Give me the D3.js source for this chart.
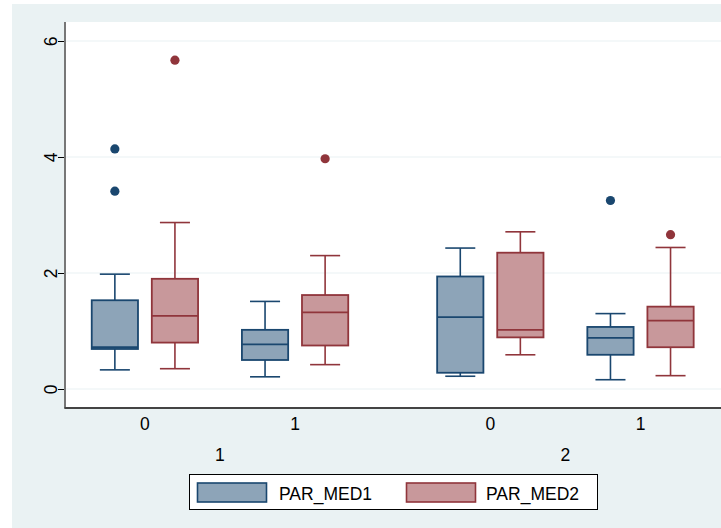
<!DOCTYPE html>
<html>
<head>
<meta charset="utf-8">
<script src="https://cdn.jsdelivr.net/npm/d3@7"></script>
<style>
  html, body { margin: 0; padding: 0; background: #ffffff; }
  svg { display: block; font-family: "Liberation Sans", Arial, Helvetica, sans-serif; }
</style>
</head>
<body>
<svg id="chart" width="721" height="528"></svg>
<script>
// Outer grouping (row of labels under the axis) and inner categories
const groups = ["1", "2"];
const categories = ["0", "1"];
const seriesNames = ["PAR_MED1", "PAR_MED2"];

// Box statistics per group / category / series: [lowWhisker, q1, median, q3, highWhisker]
const par1Stats = [
  [0.33, 0.69, 0.72, 1.53, 1.98],   // group 1, cat 0
  [0.21, 0.50, 0.77, 1.02, 1.51],   // group 1, cat 1
  [0.22, 0.28, 1.24, 1.94, 2.43],   // group 2, cat 0
  [0.16, 0.59, 0.88, 1.07, 1.30]    // group 2, cat 1
];
const par2Stats = [
  [0.35, 0.80, 1.26, 1.90, 2.87],
  [0.42, 0.75, 1.32, 1.62, 2.30],
  [0.59, 0.89, 1.02, 2.35, 2.71],
  [0.23, 0.72, 1.18, 1.42, 2.44]
];
// Outside values
const par1Outliers = [[4.14, 3.41], [], [], [3.25]];
const par2Outliers = [[5.67], [3.97], [], [2.66]];

const yTicks = [0, 2, 4, 6];

const colors = {
  PAR_MED1: { stroke: "#1a476f", fill: "#8da4b8" },
  PAR_MED2: { stroke: "#90353b", fill: "#c8989b" }
};

const svg = d3.select("#chart");
const W = 721, H = 528;

// Graph region background
svg.append("rect").attr("x", 12).attr("y", 4).attr("width", W - 12).attr("height", H - 4)
  .attr("fill", "#eaf2f3");

const plot = { left: 65, top: 22, right: 721, bottom: 408 };
svg.append("rect").attr("x", plot.left).attr("y", plot.top)
  .attr("width", plot.right - plot.left).attr("height", plot.bottom - plot.top)
  .attr("fill", "#ffffff");

// Slot layout: two boxes per category, wider gaps between categories and groups
const boxGap = 1, catGap = 1.5, groupGap = 2.25;
const boxes = [];
let pos = 0;
groups.forEach((g, gi) => {
  categories.forEach((c, ci) => {
    const idx = gi * categories.length + ci;
    boxes.push({ series: "PAR_MED1", pos: pos, stats: par1Stats[idx], out: par1Outliers[idx], cat: c, group: g });
    boxes.push({ series: "PAR_MED2", pos: pos + boxGap, stats: par2Stats[idx], out: par2Outliers[idx], cat: c, group: g });
    pos += boxGap + (ci < categories.length - 1 ? catGap : groupGap);
  });
});

const x = d3.scaleLinear().domain([-0.83, 10.09]).range([plot.left, plot.right]);
const y = d3.scaleLinear().domain([0, 6]).range([389, 41]);
const unit = x(1) - x(0);
const boxW = unit * 0.77;
const capW = unit * 0.5;

// Gridlines
svg.append("g").selectAll("line").data(yTicks).join("line")
  .attr("x1", plot.left).attr("x2", plot.right)
  .attr("y1", d => y(d)).attr("y2", d => y(d))
  .attr("stroke", "#eaf2f3").attr("stroke-width", 1.2);

// Y axis
const yAxis = d3.axisLeft(y).tickValues(yTicks).tickSize(7).tickPadding(4).tickFormat(d3.format("d"));
const yg = svg.append("g").attr("transform", `translate(${plot.left},0)`).call(yAxis);
yg.select(".domain").remove();
yg.selectAll(".tick line").attr("stroke", "#000").attr("stroke-width", 1);
yg.selectAll(".tick text")
  .attr("font-size", 17.5).attr("fill", "#000")
  .attr("text-anchor", "middle")
  .attr("x", null).attr("dy", null)
  .attr("transform", "translate(-14,0) rotate(-90) translate(0,-0.5)")
  .attr("dominant-baseline", "auto")
  .attr("y", 0);
yg.selectAll(".tick text").attr("transform", "translate(-14.5,0) rotate(-90)").attr("dy", "0.35em");

svg.append("line").attr("x1", plot.left).attr("x2", plot.left)
  .attr("y1", plot.top).attr("y2", plot.bottom + 0.5)
  .attr("stroke", "#777777").attr("stroke-width", 2);
svg.append("line").attr("x1", plot.left - 0.5).attr("x2", plot.right)
  .attr("y1", plot.bottom).attr("y2", plot.bottom)
  .attr("stroke", "#444444").attr("stroke-width", 1.8);

// Boxes
const bg = svg.append("g");
boxes.forEach(b => {
  const cx = x(b.pos);
  const col = colors[b.series];
  const [lo, q1, med, q3, hi] = b.stats;
  const g = bg.append("g");
  // whiskers
  g.append("line").attr("x1", cx).attr("x2", cx).attr("y1", y(q3)).attr("y2", y(hi))
    .attr("stroke", col.stroke).attr("stroke-width", 1.6);
  g.append("line").attr("x1", cx).attr("x2", cx).attr("y1", y(q1)).attr("y2", y(lo))
    .attr("stroke", col.stroke).attr("stroke-width", 1.6);
  g.append("line").attr("x1", cx - capW / 2).attr("x2", cx + capW / 2).attr("y1", y(hi)).attr("y2", y(hi))
    .attr("stroke", col.stroke).attr("stroke-width", 1.6);
  g.append("line").attr("x1", cx - capW / 2).attr("x2", cx + capW / 2).attr("y1", y(lo)).attr("y2", y(lo))
    .attr("stroke", col.stroke).attr("stroke-width", 1.6);
  // box
  g.append("rect").attr("x", cx - boxW / 2).attr("y", y(q3))
    .attr("width", boxW).attr("height", y(q1) - y(q3))
    .attr("fill", col.fill).attr("stroke", col.stroke).attr("stroke-width", 1.8);
  // median
  g.append("line").attr("x1", cx - boxW / 2).attr("x2", cx + boxW / 2).attr("y1", y(med)).attr("y2", y(med))
    .attr("stroke", col.stroke).attr("stroke-width", 1.8);
  // outside values
  g.selectAll("circle").data(b.out).join("circle")
    .attr("cx", cx).attr("cy", d => y(d)).attr("r", 4.6)
    .attr("fill", col.stroke);
});

// Category labels and group labels
const catLabels = [];
for (let i = 0; i < boxes.length; i += 2) {
  catLabels.push({ text: boxes[i].cat, pos: (boxes[i].pos + boxes[i + 1].pos) / 2, group: boxes[i].group });
}
svg.append("g").selectAll("text").data(catLabels).join("text")
  .attr("x", d => x(d.pos)).attr("y", 430)
  .attr("text-anchor", "middle").attr("font-size", 17.5).attr("fill", "#000")
  .text(d => d.text);

const groupLabels = groups.map(g => {
  const inG = catLabels.filter(c => c.group === g);
  return { text: g, pos: d3.mean(inG, c => c.pos) };
});
svg.append("g").selectAll("text").data(groupLabels).join("text")
  .attr("x", d => x(d.pos)).attr("y", 461)
  .attr("text-anchor", "middle").attr("font-size", 17.5).attr("fill", "#000")
  .text(d => d.text);

// Legend
const lg = svg.append("g");
lg.append("rect").attr("x", 189.5).attr("y", 474.5).attr("width", 408).attr("height", 35)
  .attr("fill", "#ffffff").attr("stroke", "#000").attr("stroke-width", 1);
const legendItems = [
  { name: seriesNames[0], kx: 197.5, tx: 279 },
  { name: seriesNames[1], kx: 406.5, tx: 486 }
];
legendItems.forEach(it => {
  const col = colors[it.name];
  lg.append("rect").attr("x", it.kx).attr("y", 483).attr("width", 69).attr("height", 19)
    .attr("fill", col.fill).attr("stroke", col.stroke).attr("stroke-width", 1.6);
  lg.append("text").attr("x", it.tx).attr("y", 499.5)
    .attr("font-size", 17.5).attr("fill", "#000").text(it.name);
});
</script>
</body>
</html>
